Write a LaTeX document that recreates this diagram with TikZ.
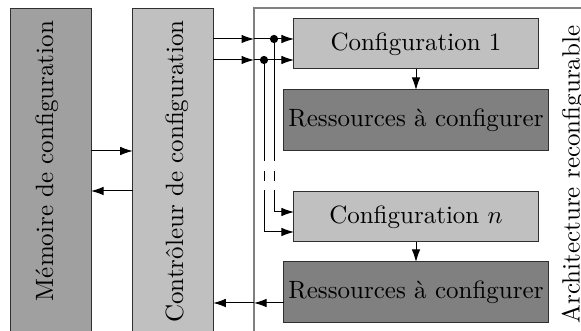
\documentclass[tikz,border=0pt]{standalone}
\usetikzlibrary{arrows.meta}
\definecolor{memgray}{HTML}{A0A0A0}
\definecolor{ctrlgray}{HTML}{C0C0C0}
\definecolor{resgray}{HTML}{808080}
\definecolor{edgegray}{HTML}{303030}
\definecolor{framegray}{HTML}{808080}
\begin{document}
\begin{tikzpicture}[x=0.4pt,y=-0.4pt,
  box/.style={draw=edgegray, line width=0.4pt, inner sep=0pt, outer sep=0pt},
  arr/.style={line width=0.4pt, -{Latex[length=5pt,width=3.4pt]}},
  conn/.style={line width=0.4pt},
  dotc/.style={fill=black}]
\useasboundingbox (0,0) rectangle (581,331);
\clip (0,0) rectangle (581,331);
% frame
\draw[framegray, line width=0.8pt] (254,345) -- (254,8.5) -- (600,8.5);
% boxes
\node[box, fill=memgray, minimum width=32pt, minimum height=134.4pt] (mem) at (51,177) {};
\node[box, fill=ctrlgray, minimum width=32.2pt, minimum height=134.4pt] (ctrl) at (173,177) {};
\node[box, fill=ctrlgray, minimum width=97.6pt, minimum height=20pt] (cfg1) at (416,44) {Configuration 1};
\node[box, fill=resgray, minimum width=105.6pt, minimum height=24.4pt] (res1) at (416,120.5) {Ressources à configurer};
\node[box, fill=ctrlgray, minimum width=97.6pt, minimum height=20pt] (cfgn) at (416,217) {Configuration $n$};
\node[box, fill=resgray, minimum width=105.6pt, minimum height=24.4pt] (resn) at (416,292.5) {Ressources à configurer};
% rotated labels
\node[rotate=90, anchor=base, inner sep=0pt] (memtxt) at (53,161) {Mémoire de configuration};
\node[rotate=90, anchor=base, inner sep=0pt] (ctrltxt) at (183,171.5) {Contrôleur de configuration};
\node[rotate=90, anchor=base, inner sep=0pt] (archtxt) at (579.5,174.5) {Architecture reconfigurable};
% coordinates
\coordinate (fa) at (254,39);
\coordinate (fb) at (254,60);
\coordinate (d1) at (274,39);
\coordinate (d2) at (264,60);
\coordinate (m1) at (0,151);
\coordinate (m2) at (0,191);
\coordinate (fc) at (254,303);
\coordinate (r3) at (0,303);
\coordinate (a1) at (274,161);
\coordinate (a2) at (274,171);
\coordinate (a3) at (274,181);
\coordinate (a4) at (274,190);
\coordinate (b1) at (264,161);
\coordinate (b2) at (264,171);
\coordinate (b3) at (264,181);
\coordinate (b4) at (264,190);
\coordinate (c1) at (274,212);
\coordinate (c2) at (264,232);
% memory <-> controller
\draw[arr] (mem.east |- m1) -- (ctrl.west |- m1);
\draw[arr] (ctrl.west |- m2) -- (mem.east |- m2);
% controller -> configurations
\draw[arr] (ctrl.east |- fa) -- (fa);
\draw[conn] (fa) -- (d1);
\draw[arr] (d1) -- (d1 -| cfg1.west);
\draw[arr] (ctrl.east |- fb) -- (fb);
\draw[conn] (fb) -- (d2);
\draw[arr] (d2) -- (d2 -| cfg1.west);
\fill[dotc] (d1) circle[radius=1.65pt];
\fill[dotc] (d2) circle[radius=1.65pt];
\draw[conn] (d1) -- (a1);
\draw[conn] (a2) -- (a3);
\draw[arr] (a4) -- (c1) -- (c1 -| cfgn.west);
\draw[conn] (d2) -- (b1);
\draw[conn] (b2) -- (b3);
\draw[arr] (b4) -- (c2) -- (c2 -| cfgn.west);
% configuration -> resources
\draw[arr] (cfg1.south) -- (res1.north);
\draw[arr] (cfgn.south) -- (resn.north);
% resources -> controller
\draw[arr] (resn.west |- fc) -- (fc);
\draw[arr] (fc) -- (ctrl.east |- fc);
\end{tikzpicture}
\end{document}
